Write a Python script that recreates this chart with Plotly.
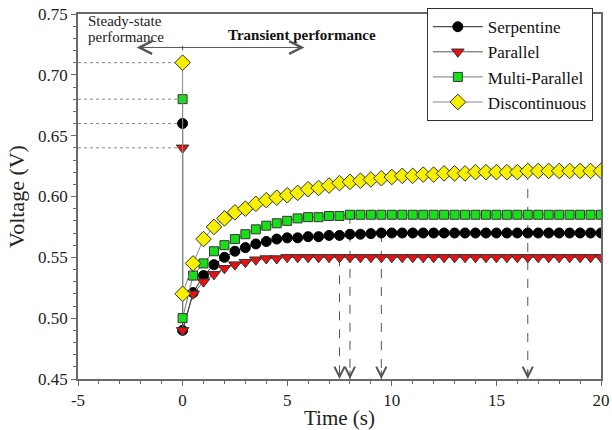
import plotly.graph_objects as go

# ---- data ----
# first point of each series = steady-state value (drawn at t = 0), then transient from t = 0 to 20 s
time_s = [0.0, 0.0, 0.5, 1.0, 1.5, 2.0, 2.5, 3.0, 3.5, 4.0, 4.5,
          5.0, 5.5, 6.0, 6.5, 7.0, 7.5, 8.0, 8.5, 9.0, 9.5,
          10.0, 10.5, 11.0, 11.5, 12.0, 12.5, 13.0, 13.5, 14.0, 14.5,
          15.0, 15.5, 16.0, 16.5, 17.0, 17.5, 18.0, 18.5, 19.0, 19.5, 20.0]

serpentine = [0.660, 0.490, 0.521, 0.535, 0.544, 0.550, 0.555, 0.558, 0.561, 0.563, 0.565,
              0.566, 0.566, 0.567, 0.567, 0.568, 0.568, 0.569, 0.569, 0.5695, 0.570,
              0.570, 0.570, 0.570, 0.570, 0.570, 0.570, 0.570, 0.570, 0.570, 0.570,
              0.570, 0.570, 0.570, 0.570, 0.570, 0.570, 0.570, 0.570, 0.570, 0.570, 0.570]

parallel = [0.640, 0.490, 0.520, 0.530, 0.536, 0.541, 0.544, 0.546, 0.548, 0.549, 0.549,
            0.550, 0.550, 0.550, 0.550, 0.550, 0.550, 0.550, 0.550, 0.550, 0.550,
            0.550, 0.550, 0.550, 0.550, 0.550, 0.550, 0.550, 0.550, 0.550, 0.550,
            0.550, 0.550, 0.550, 0.550, 0.550, 0.550, 0.550, 0.550, 0.550, 0.550, 0.550]

multi_parallel = [0.680, 0.500, 0.535, 0.545, 0.555, 0.560, 0.565, 0.569, 0.573, 0.576, 0.578,
                  0.580, 0.582, 0.583, 0.583, 0.584, 0.584, 0.585, 0.585, 0.585, 0.585,
                  0.585, 0.585, 0.585, 0.585, 0.585, 0.585, 0.585, 0.585, 0.585, 0.585,
                  0.585, 0.585, 0.585, 0.585, 0.585, 0.585, 0.585, 0.585, 0.585, 0.585, 0.585]

discontinuous = [0.710, 0.520, 0.545, 0.565, 0.575, 0.582, 0.587, 0.590, 0.594, 0.597, 0.599,
                 0.601, 0.603, 0.606, 0.607, 0.609, 0.611, 0.612, 0.613, 0.614, 0.615,
                 0.616, 0.617, 0.617, 0.618, 0.618, 0.619, 0.619, 0.619, 0.620, 0.620,
                 0.620, 0.620, 0.620, 0.621, 0.621, 0.621, 0.621, 0.621, 0.621, 0.621, 0.621]

series_names = ["Serpentine", "Parallel", "Multi-Parallel", "Discontinuous"]

# steady-state reference values (dotted guides) and time to reach steady transient value
steady_values = [0.710, 0.680, 0.660, 0.640]
settle_times = [7.5, 8.0, 9.5, 16.5]
settle_values = [0.550, 0.585, 0.570, 0.621]

x_ticks = [-5, 0, 5, 10, 15, 20]
y_ticks = [0.45, 0.50, 0.55, 0.60, 0.65, 0.70, 0.75]

# ---- figure ----
SERIF = "Liberation Serif"
AX = "#6a6a6a"

styles = [
    dict(symbol="circle", size=10, color="#000000", line="#000000"),
    dict(symbol="triangle-down", size=11, color="#e81010", line="#333333"),
    dict(symbol="square", size=9, color="#18e018", line="#333333"),
    dict(symbol="diamond", size=12, color="#f7f000", line="#333333"),
]
line_cols = ["#222222", "#555555", "#777777", "#888888"]

fig = go.Figure()

# dotted steady-state guides
for v in steady_values:
    fig.add_shape(type="line", x0=-5, x1=0, y0=v, y1=v, xref="x", yref="y",
                  line=dict(color="#888888", width=1, dash="dot"), layer="below")

# dashed settling-time arrows
for t, v in zip(settle_times, settle_values):
    fig.add_shape(type="line", x0=t, x1=t, y0=v, y1=0.45, xref="x", yref="y",
                  line=dict(color="#555555", width=1, dash="dash"), layer="below")
    fig.add_annotation(x=t, y=0.45, xref="x", yref="y", text="", showarrow=True,
                       ax=0, ay=-10, arrowhead=5, arrowsize=2, arrowwidth=1,
                       arrowcolor="#555555")

for name, ys, st, lc in zip(series_names,
                             [serpentine, parallel, multi_parallel, discontinuous],
                             styles, line_cols):
    fig.add_trace(go.Scatter(
        x=time_s, y=ys, name=name, mode="lines+markers",
        line=dict(color=lc, width=1),
        marker=dict(symbol=st["symbol"], size=st["size"], color=st["color"],
                    line=dict(color=st["line"], width=1)),
    ))

# top annotations
fig.add_annotation(x=-4.62, y=0.7440, xref="x", yref="y", text="Steady-state",
                   showarrow=False, xanchor="left", yanchor="middle",
                   font=dict(family=SERIF, size=15, color="#222222"))
fig.add_annotation(x=-4.62, y=0.7315, xref="x", yref="y", text="performance",
                   showarrow=False, xanchor="left", yanchor="middle",
                   font=dict(family=SERIF, size=15, color="#222222"))
fig.add_annotation(x=5.72, y=0.7330, xref="x", yref="y", text="<b>Transient performance</b>",
                   showarrow=False, xanchor="center", yanchor="middle",
                   font=dict(family=SERIF, size=15, color="#111111"))
fig.add_annotation(x=5.83, y=0.7225, ax=-2.27, ay=0.7225, xref="x", yref="y",
                   axref="x", ayref="y", text="", showarrow=True,
                   arrowside="end+start", arrowhead=5, startarrowhead=5,
                   arrowsize=2.5, startarrowsize=2.5, arrowwidth=1, arrowcolor="#555555")
fig.add_shape(type="line", x0=0, x1=0, y0=0.7200, y1=0.7240, xref="x", yref="y",
              line=dict(color="#555555", width=1))

fig.update_layout(
    width=612, height=430,
    margin=dict(l=78, r=11, t=14, b=51, autoexpand=False),
    paper_bgcolor="white", plot_bgcolor="white",
    font=dict(family=SERIF, size=17, color="#222222"),
    showlegend=True,
    legend=dict(x=0.667, y=1.016, xanchor="left", yanchor="top",
                bgcolor="white", bordercolor="#333333", borderwidth=1,
                font=dict(family=SERIF, size=17, color="#111111"),
                itemwidth=50, tracegroupgap=0),
)

fig.update_xaxes(
    range=[-5, 20], tickvals=x_ticks, ticktext=[str(v) for v in x_ticks],
    showgrid=False, zeroline=False, showline=True, linecolor=AX, linewidth=1.5,
    mirror=True, ticks="outside", ticklen=5, tickcolor=AX, tickwidth=1,
    minor=dict(dtick=1, ticks="outside", ticklen=3, tickcolor=AX, showgrid=False),
    tickfont=dict(family=SERIF, size=17, color="#222222"),
    title=dict(text="Time (s)", font=dict(family=SERIF, size=21, color="#222222"), standoff=6),
)
fig.update_yaxes(
    range=[0.45, 0.75], tickvals=y_ticks, ticktext=[f"{v:.2f}" for v in y_ticks],
    showgrid=False, zeroline=False, showline=True, linecolor=AX, linewidth=1.5,
    mirror=True, ticks="outside", ticklen=5, tickcolor=AX, tickwidth=1,
    minor=dict(dtick=0.01, ticks="outside", ticklen=3, tickcolor=AX, showgrid=False),
    tickfont=dict(family=SERIF, size=17, color="#222222"),
    title=dict(text="Voltage (V)", font=dict(family=SERIF, size=22, color="#222222"), standoff=7),
)

# remove the browser's default 8 px body margin so the 612x430 figure fills the window
fig.write_html("out.html",
               config={"displayModeBar": False},
               post_script="document.body.style.margin='0';document.body.style.overflow='hidden';")
